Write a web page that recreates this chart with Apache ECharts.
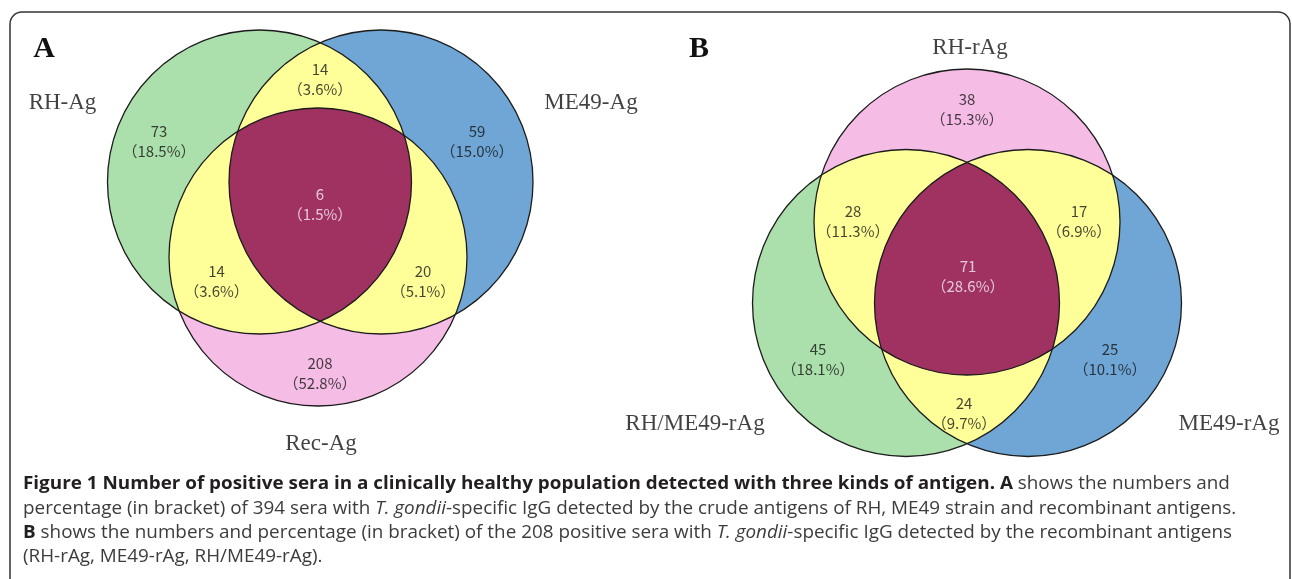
<!DOCTYPE html>
<html>
<head>
<meta charset="utf-8">
<script src="https://cdn.jsdelivr.net/npm/echarts@6/dist/echarts.min.js"></script>
<style>
  html, body { margin: 0; padding: 0; background: #fff; }
  #box { width: 1292px; height: 579px; }
</style>
</head>
<body>
<div id="box"></div>
<script>
// ---- data ----
// region order: only set0, only set1, only set2, 0&1, 0&2, 1&2, all three
var regionSets = [[0], [1], [2], [0, 1], [0, 2], [1, 2], [0, 1, 2]];

// panel A (394 sera, crude antigens)
var setNamesA = ["RH-Ag", "ME49-Ag", "Rec-Ag"];
var countsA = [73, 59, 208, 14, 14, 20, 6];
var pctA = ["18.5", "15.0", "52.8", "3.6", "3.6", "5.1", "1.5"];

// panel B (208 positive sera, recombinant antigens)
var setNamesB = ["RH-rAg", "ME49-rAg", "RH/ME49-rAg"];
var countsB = [38, 25, 45, 17, 28, 24, 71];
var pctB = ["15.3", "10.1", "18.1", "6.9", "11.3", "9.7", "28.6"];

// ---- layout (circle geometry in axis units) ----
var circXA = [259.5, 381, 318], circYA = [182, 182, 257], circRA = [152, 152, 149];
var circXB = [967, 1028, 906], circYB = [222, 303, 303], circRB = [153, 153.5, 153.5];
var colorsA = ["#abdfab", "#6fa6d6", "#f5bde6"];
var colorsB = ["#f5bde6", "#6fa6d6", "#abdfab"];
var pairColor = "#ffff99", tripleColor = "#a03262";

var labXA = [159, 477, 320, 320, 216.5, 423, 320];
var labYA = [141, 141, 373, 79.5, 281.5, 281.5, 204.5];
var labXB = [967, 1110, 818, 1079, 853, 964, 968];
var labYB = [109.5, 359.5, 359.5, 221, 221, 413, 276];

var nameXA = [62.5, 591, 321], nameYA = [103, 103, 444];
var nameXB = [970, 1229, 695], nameYB = [48, 424, 424];

// ---- geometry helpers ----
function regionPolygon(cx, cy, r, ids) {
  var pts = [], N = 720;
  var inside = function (x, y, skip) {
    return ids.every(function (j) {
      return j === skip || Math.hypot(x - cx[j], y - cy[j]) <= r[j] + 0.01;
    });
  };
  ids.forEach(function (i) {
    for (var k = 0; k < N; k++) {
      var a = (k / N) * Math.PI * 2;
      var x = cx[i] + r[i] * Math.cos(a), y = cy[i] + r[i] * Math.sin(a);
      if (inside(x, y, i)) pts.push([x, y]);
    }
  });
  // exact crossing points of the circles
  for (var p = 0; p < ids.length; p++) {
    for (var q = p + 1; q < ids.length; q++) {
      var i = ids[p], j = ids[q];
      var dx = cx[j] - cx[i], dy = cy[j] - cy[i], d = Math.hypot(dx, dy);
      var a0 = (r[i] * r[i] - r[j] * r[j] + d * d) / (2 * d);
      var h = Math.sqrt(Math.max(0, r[i] * r[i] - a0 * a0));
      var mx = cx[i] + (a0 * dx) / d, my = cy[i] + (a0 * dy) / d;
      [[mx + (h * dy) / d, my - (h * dx) / d], [mx - (h * dy) / d, my + (h * dx) / d]].forEach(function (pt) {
        if (ids.every(function (k) {
          return k === i || k === j || Math.hypot(pt[0] - cx[k], pt[1] - cy[k]) <= r[k] + 0.01;
        })) pts.push(pt);
      });
    }
  }
  var mx0 = 0, my0 = 0;
  pts.forEach(function (pt) { mx0 += pt[0]; my0 += pt[1]; });
  mx0 /= pts.length; my0 /= pts.length;
  pts.sort(function (u, v) {
    return Math.atan2(u[1] - my0, u[0] - mx0) - Math.atan2(v[1] - my0, v[0] - mx0);
  });
  return pts;
}

function vennSeries(cx, cy, r, colors) {
  var shapes = [];
  [0, 1, 2].forEach(function (i) { shapes.push({ kind: "fill", ids: [i], color: colors[i] }); });
  regionSets.forEach(function (ids) {
    if (ids.length > 1) shapes.push({ kind: "region", ids: ids, color: ids.length === 2 ? pairColor : tripleColor });
  });
  [0, 1, 2].forEach(function (i) { shapes.push({ kind: "line", ids: [i] }); });
  return {
    type: "custom",
    silent: true,
    data: shapes.map(function (s) { return [cx[s.ids[0]], cy[s.ids[0]]]; }),
    renderItem: function (params, api) {
      var s = shapes[params.dataIndex];
      if (s.kind === "region") {
        var pts = regionPolygon(cx, cy, r, s.ids).map(function (pt) { return api.coord(pt); });
        return { type: "polygon", shape: { points: pts }, style: { fill: s.color } };
      }
      var i = s.ids[0];
      var c = api.coord([cx[i], cy[i]]);
      var rr = api.size([r[i], 0])[0];
      if (s.kind === "fill") {
        return { type: "circle", shape: { cx: c[0], cy: c[1], r: rr }, style: { fill: s.color } };
      }
      return { type: "circle", shape: { cx: c[0], cy: c[1], r: rr }, style: { fill: "none", stroke: "#1c1c1c", lineWidth: 1.3 } };
    }
  };
}

function labelSeries(lx, ly, counts, pcts) {
  return {
    type: "scatter",
    symbolSize: 0,
    silent: true,
    z: 5,
    data: counts.map(function (c, i) {
      return {
        value: [lx[i], ly[i]],
        label: { color: i === 6 ? "#f6eef3" : "#151515" }
      };
    }),
    label: {
      show: true,
      position: "inside",
      formatter: function (p) {
        var i = p.dataIndex;
        return "{n|" + counts[i] + "}\n{n|（" + pcts[i] + "%）}";
      },
      rich: {
        n: { fontFamily: "Noto Sans CJK JP", fontSize: 15, lineHeight: 20, align: "center" }
      }
    }
  };
}

function nameSeries(nx, ny, names) {
  return {
    type: "scatter",
    symbolSize: 0,
    silent: true,
    z: 5,
    data: names.map(function (n, i) { return { value: [nx[i], ny[i]], name: n }; }),
    label: {
      show: true,
      position: "inside",
      formatter: "{b}",
      fontFamily: "Liberation Serif",
      fontSize: 23,
      color: "#111"
    }
  };
}

var chart = echarts.init(document.getElementById("box"), null, { renderer: "canvas" });

var capFont = "Open Sans";
var capSize = 18.2;
var capRich = {
  b: { fontFamily: capFont, fontWeight: "bold", fontSize: capSize, fill: "#231f20", color: "#231f20" },
  r: { fontFamily: capFont, fontSize: capSize, fill: "#3c3c3c", color: "#3c3c3c" },
  i: { fontFamily: capFont, fontStyle: "italic", fontSize: capSize, fill: "#3c3c3c", color: "#3c3c3c" }
};
var capLines = [
  "{b|Figure 1 Number of positive sera in a clinically healthy population detected with three kinds of antigen. A}{r| shows the numbers and}",
  "{r|percentage (in bracket) of 394 sera with }{i|T. gondii}{r|-specific IgG detected by the crude antigens of RH, ME49 strain and recombinant antigens.}",
  "{b|B}{r| shows the numbers and percentage (in bracket) of the 208 positive sera with }{i|T. gondii}{r|-specific IgG detected by the recombinant antigens}",
  "{r|(RH-rAg, ME49-rAg, RH/ME49-rAg).}"
];
var capY = [484, 508.5, 532.5, 556.5];

var graphics = [{
  type: "rect",
  z: -10,
  shape: { x: 10, y: 12, width: 1280, height: 640, r: 12 },
  style: { fill: "none", stroke: "#333", lineWidth: 1.5 }
}, {
  type: "text", x: 44, y: 49,
  style: { text: "A", font: "bold 30px 'Liberation Serif'", fill: "#111", align: "center", verticalAlign: "middle" }
}, {
  type: "text", x: 699, y: 49,
  style: { text: "B", font: "bold 30px 'Liberation Serif'", fill: "#111", align: "center", verticalAlign: "middle" }
}];
capLines.forEach(function (t, k) {
  graphics.push({
    type: "text", x: 23, y: capY[k], scaleX: 1.037,
    style: { text: t, rich: capRich, verticalAlign: "middle", align: "left" }
  });
});

chart.setOption({
  animation: false,
  grid: { left: 0, right: 0, top: 0, bottom: 0 },
  xAxis: { type: "value", min: 0, max: 1292, show: false },
  yAxis: { type: "value", min: 0, max: 579, inverse: true, show: false },
  graphic: graphics,
  series: [
    vennSeries(circXA, circYA, circRA, colorsA),
    vennSeries(circXB, circYB, circRB, colorsB),
    labelSeries(labXA, labYA, countsA, pctA),
    labelSeries(labXB, labYB, countsB, pctB),
    nameSeries(nameXA, nameYA, setNamesA),
    nameSeries(nameXB, nameYB, setNamesB)
  ]
});
</script>
</body>
</html>
